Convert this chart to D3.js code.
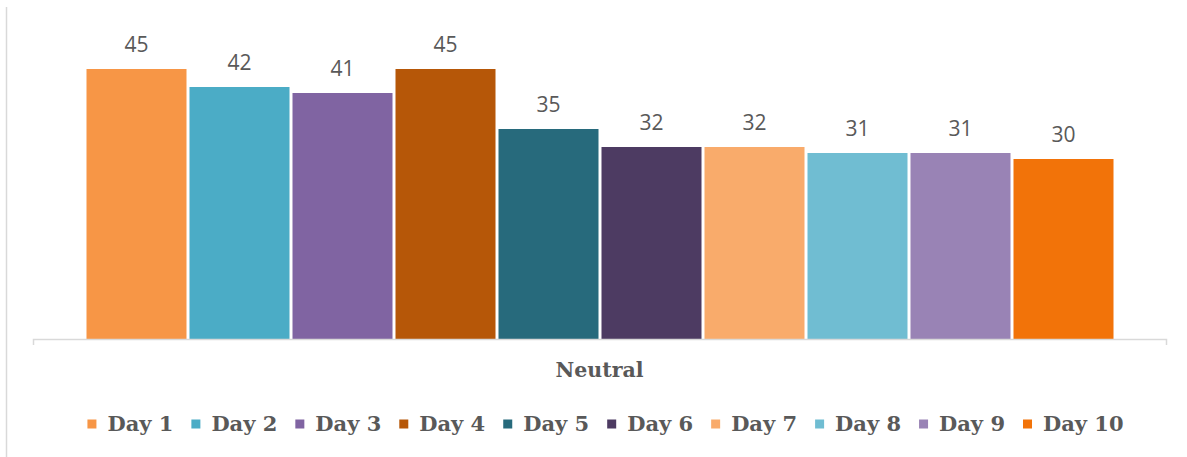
<!DOCTYPE html>
<html>
<head>
<meta charset="utf-8">
<script src="https://cdn.jsdelivr.net/npm/d3@7"></script>
<style>
  html, body { margin: 0; padding: 0; background: #ffffff; }
  svg { display: block; }
</style>
</head>
<body>
<svg id="chart" width="1187" height="457"></svg>
<script>
// Share of "Neutral" responses per day
const groupLabel = "Neutral";
const days = ["Day 1", "Day 2", "Day 3", "Day 4", "Day 5", "Day 6", "Day 7", "Day 8", "Day 9", "Day 10"];
const values = [45, 42, 41, 45, 35, 32, 32, 31, 31, 30];
const colors = ["#F79646", "#4BACC6", "#8064A2", "#B65708", "#276A7C",
                "#4D3B62", "#F9AB6B", "#70BDD2", "#9983B5", "#F27309"];

const svg = d3.select("#chart");
const W = 1187, H = 457;
const baseline = 339;

// Frame line on the left edge
svg.append("line")
  .attr("x1", 6.5).attr("x2", 6.5)
  .attr("y1", 7).attr("y2", H)
  .attr("stroke", "#d9d9d9").attr("stroke-width", 1.5);

// Single category axis spanning the plot
const outer = d3.scaleBand().domain([groupLabel]).range([33, 1166]);
// Bars within the category
const x = d3.scaleBand().domain(days).range([85, 1115]).padding(0);
const y = d3.scaleLinear().domain([0, 50]).range([baseline, 39]);

const bars = svg.append("g");
bars.selectAll("rect")
  .data(values)
  .join("rect")
  .attr("x", (d, i) => x(days[i]) + 1.5)
  .attr("width", x.bandwidth() - 3)
  .attr("y", d => y(d))
  .attr("height", d => y(0) - y(d))
  .attr("fill", (d, i) => colors[i]);

// Value labels above bars
svg.append("g").selectAll("text")
  .data(values)
  .join("text")
  .attr("x", (d, i) => x(days[i]) + x.bandwidth() / 2)
  .attr("y", d => y(d) - 17)
  .attr("text-anchor", "middle")
  .attr("font-family", "'Open Sans', 'Noto Sans', sans-serif")
  .attr("font-size", 21)
  .attr("fill", "#595959")
  .text(d => d);

// Category axis
const axis = svg.append("g")
  .attr("transform", `translate(0,${baseline})`)
  .call(d3.axisBottom(outer).tickSizeInner(0).tickSizeOuter(6).tickPadding(0));
axis.select(".domain").attr("stroke", "#d9d9d9").attr("stroke-width", 1.5);
axis.selectAll(".tick text")
  .attr("y", 38)
  .attr("dy", 0)
  .attr("font-family", "'DejaVu Serif', serif")
  .attr("font-weight", "bold")
  .attr("font-size", 20.5)
  .attr("fill", "#595959");

// Legend
const legend = svg.append("g");
const items = legend.selectAll("g")
  .data(days)
  .join("g");
items.append("rect")
  .attr("width", 9).attr("height", 9)
  .attr("y", -11.5)
  .attr("fill", (d, i) => colors[i]);
items.append("text")
  .attr("x", 20)
  .attr("y", 0)
  .attr("font-family", "'DejaVu Serif', serif")
  .attr("font-weight", "bold")
  .attr("font-size", 21)
  .attr("fill", "#595959")
  .text(d => d);

const itemGap = 18;
let cursor = 0;
items.each(function () {
  const g = d3.select(this);
  const tw = g.select("text").node().getComputedTextLength();
  g.attr("transform", `translate(${cursor},0)`);
  cursor += 20 + tw + itemGap;
});
const legendWidth = cursor - itemGap;
legend.attr("transform", `translate(${605.5 - legendWidth / 2},${431})`);
</script>
</body>
</html>
